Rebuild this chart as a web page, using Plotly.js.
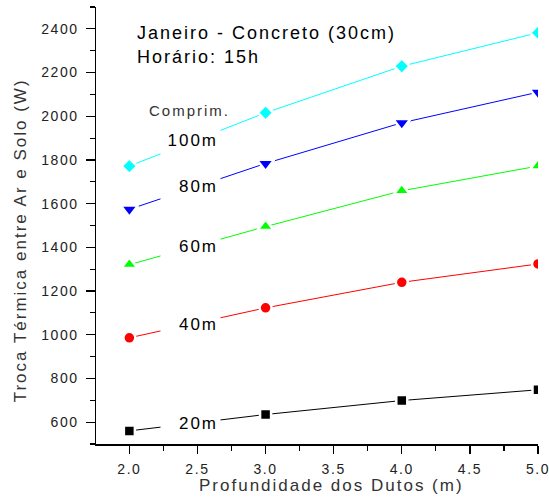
<!DOCTYPE html>
<html>
<head>
<meta charset="utf-8">
<script src="https://cdn.plot.ly/plotly-3.0.1.min.js"></script>
<style>
  html, body { margin: 0; padding: 0; background: #fff; }
  #chart { width: 549px; height: 502px; }
  #chart svg text { letter-spacing: 2px; }
  #chart svg .xtick text, #chart svg .ytick text { letter-spacing: 1.6px; }
</style>
</head>
<body>
<div id="chart"></div>
<script>
// ---- data ----
const depth = [2.0, 3.0, 4.0, 5.0];
const q20  = [560, 635, 699, 748];
const q40  = [986, 1123, 1240, 1324];
const q60  = [1321, 1495, 1659, 1772];
const q80  = [1574, 1784, 1970, 2110];
const q100 = [1772, 2016, 2229, 2382];
const seriesNames = ['20m', '40m', '60m', '80m', '100m'];
const labelY = [598, 1050, 1405, 1680, 1890];
const labelX = 2.45;
const legendTitle = 'Comprim.';
const legendTitlePos = [2.44, 2028];
const titleLines = ['Janeiro - Concreto (30cm)', 'Horário: 15h'];
const xTitle = 'Profundidade dos Dutos (m)';
const yTitle = 'Troca Térmica entre Ar e Solo (W)';

// ---- styles ----
const FONT = 'Liberation Sans, Arial, sans-serif';
const styles = [
  {color: '#000000', symbol: 'square', size: 11},
  {color: '#ff0000', symbol: 'circle', size: 12},
  {color: '#00ff00', symbol: 'triangle-up', size: 14},
  {color: '#0000ff', symbol: 'triangle-down', size: 15},
  {color: '#00ffff', symbol: 'diamond', size: 12}
];
const allY = [q20, q40, q60, q80, q100];

const traces = allY.map((ys, i) => ({
  x: depth, y: ys, name: seriesNames[i], type: 'scatter', mode: 'lines+markers',
  line: {color: styles[i].color, width: 1},
  marker: {color: styles[i].color, symbol: styles[i].symbol, size: styles[i].size,
           line: {color: '#ffffff', width: 2.5}},
  showlegend: false, hoverinfo: 'skip'
}));

const annotations = [];
seriesNames.forEach((n, i) => {
  annotations.push({
    x: labelX, y: labelY[i], xref: 'x', yref: 'y', text: n, showarrow: false,
    xanchor: 'center', yanchor: 'middle', width: 55, height: 28, align: 'right',
    bgcolor: '#ffffff', borderpad: 2,
    font: {family: FONT, size: 17, color: '#000000'}
  });
});
annotations.push({
  x: legendTitlePos[0], y: legendTitlePos[1], xref: 'x', yref: 'y', text: legendTitle,
  showarrow: false, xanchor: 'center', yanchor: 'middle',
  font: {family: FONT, size: 15, color: '#333333'}
});
annotations.push({
  x: 0.088, y: 0.9404, xref: 'paper', yref: 'paper', text: titleLines[0],
  showarrow: false, xanchor: 'left', yanchor: 'middle', align: 'left',
  font: {family: FONT, size: 18, color: '#000000'}
});
annotations.push({
  x: 0.088, y: 0.8855, xref: 'paper', yref: 'paper', text: titleLines[1],
  showarrow: false, xanchor: 'left', yanchor: 'middle', align: 'left',
  font: {family: FONT, size: 18, color: '#000000'}
});
annotations.push({
  x: -0.172, y: 0.466, xref: 'paper', yref: 'paper', text: yTitle, textangle: -90,
  showarrow: false, xanchor: 'center', yanchor: 'middle',
  font: {family: FONT, size: 17, color: '#333333'}
});
annotations.push({
  x: 0.533, y: -0.095, xref: 'paper', yref: 'paper', text: xTitle,
  showarrow: false, xanchor: 'center', yanchor: 'middle',
  font: {family: FONT, size: 17, color: '#333333'}
});

const layout = {
  width: 549, height: 502,
  margin: {l: 96, r: 11, t: 7, b: 58},
  paper_bgcolor: '#ffffff', plot_bgcolor: '#ffffff',
  showlegend: false,
  xaxis: {
    range: [1.755, 5.0], tickmode: 'linear', tick0: 2.0, dtick: 0.5, tickformat: '.1f',
    showgrid: false, zeroline: false, showline: true, linecolor: '#000', linewidth: 1.5,
    ticks: 'outside', ticklen: 8, tickwidth: 1.2, tickcolor: '#000',
    minor: {dtick: 0.25, tick0: 2.0, ticks: 'outside', ticklen: 5, tickwidth: 1.2, tickcolor: '#000', showgrid: false},
    tickfont: {family: FONT, size: 14, color: '#222'}, ticklabelstandoff: 4
  },
  yaxis: {
    range: [500, 2500], tickmode: 'linear', tick0: 600, dtick: 200,
    showgrid: false, zeroline: false, showline: true, linecolor: '#000', linewidth: 1.5,
    ticks: 'outside', ticklen: 9, tickwidth: 1.2, tickcolor: '#000',
    minor: {dtick: 100, tick0: 500, ticks: 'outside', ticklen: 5, tickwidth: 1.2, tickcolor: '#000', showgrid: false},
    tickfont: {family: FONT, size: 14, color: '#222'}, ticklabelstandoff: 4
  },
  annotations: annotations
};

Plotly.newPlot('chart', traces, layout, {displayModeBar: false, staticPlot: true});
</script>
</body>
</html>
